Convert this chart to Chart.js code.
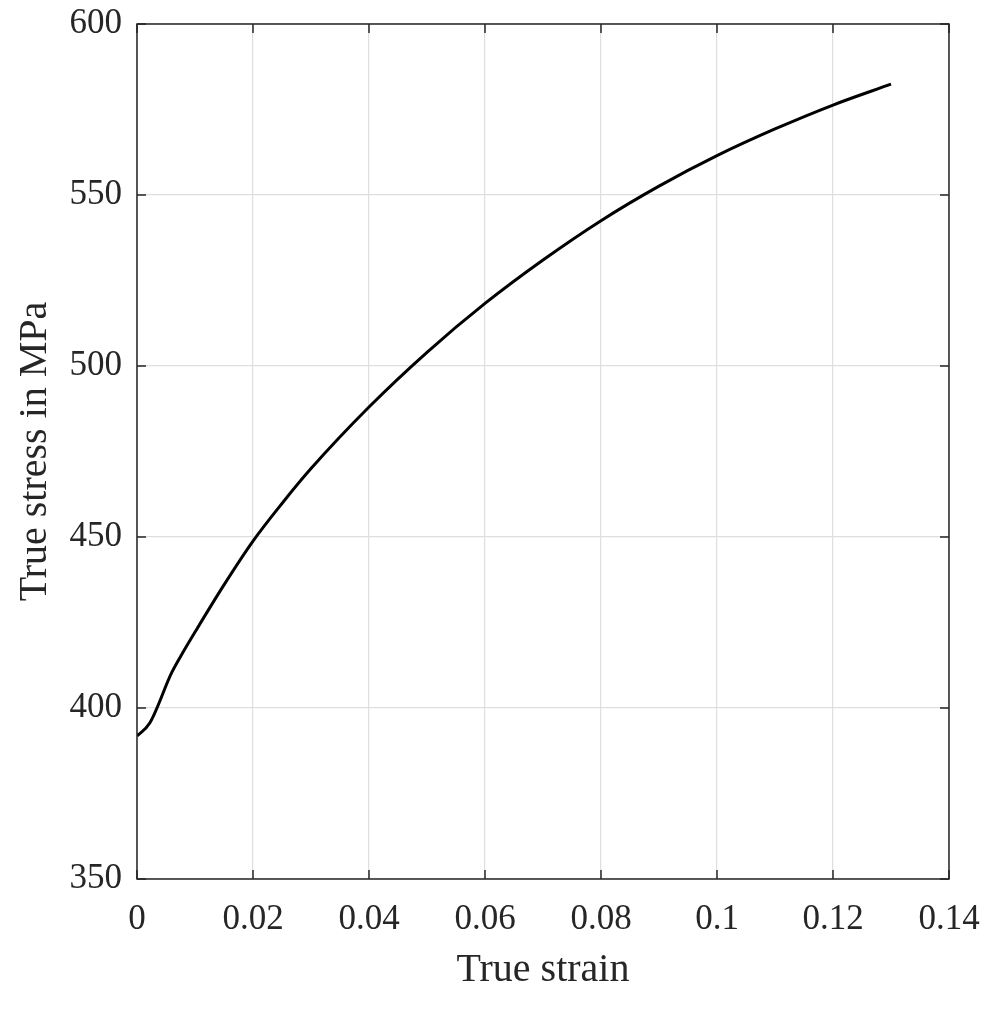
<!DOCTYPE html>
<html>
<head>
<meta charset="utf-8">
<script src="https://cdn.jsdelivr.net/npm/chart.js@4/dist/chart.umd.min.js"></script>
<style>
  html, body { margin: 0; padding: 0; background: #fff; }
  #wrap { width: 992px; height: 1010px; }
</style>
</head>
<body>
<div id="wrap"><canvas id="Chart"></canvas></div>
<script>
/* data */
const strain = [0, 0.0022, 0.006, 0.008, 0.01, 0.015, 0.02, 0.025, 0.03, 0.04, 0.05, 0.06, 0.07, 0.08, 0.09, 0.1, 0.11, 0.12, 0.13];
const stress = [391.8, 395.6, 410.4, 416.5, 422.2, 436.0, 448.8, 459.8, 470, 488, 504, 518.3, 531, 542.5, 552.6, 561.5, 569.3, 576.3, 582.4];
const xTicks = [0, 0.02, 0.04, 0.06, 0.08, 0.1, 0.12, 0.14];
const yTicks = [350, 400, 450, 500, 550, 600];

const fontFam = '"Liberation Serif", "Times New Roman", serif';

/* box and inward ticks like MATLAB */
const boxPlugin = {
    id: 'boxTicks',
    afterDraw(chart) {
        const ctx = chart.ctx;
        const a = chart.chartArea;
        const xs = chart.scales.x, ys = chart.scales.y;
        ctx.save();
        ctx.strokeStyle = '#262626';
        ctx.lineWidth = 1.5;
        ctx.beginPath();
        xTicks.forEach(v => {
            const px = xs.getPixelForValue(v);
            ctx.moveTo(px, a.bottom); ctx.lineTo(px, a.bottom - 9);
            ctx.moveTo(px, a.top); ctx.lineTo(px, a.top + 9);
        });
        yTicks.forEach(v => {
            const py = ys.getPixelForValue(v);
            ctx.moveTo(a.left, py); ctx.lineTo(a.left + 9, py);
            ctx.moveTo(a.right, py); ctx.lineTo(a.right - 9, py);
        });
        ctx.stroke();
        ctx.strokeRect(a.left, a.top, a.right - a.left, a.bottom - a.top);
        ctx.restore();
    }
};

const ctx = document.getElementById('Chart').getContext('2d');
const myChart = new Chart(ctx, {
    type: 'line',
    data: {
        datasets: [{
            data: strain.map((s, i) => ({x: s, y: stress[i]})),
            borderColor: '#000',
            borderWidth: 3,
            pointRadius: 0,
            cubicInterpolationMode: 'monotone',
            fill: false
        }]
    },
    options: {
        responsive: true,
        maintainAspectRatio: false,
        animation: false,
        layout: { padding: { top: 24, right: 43, left: 0, bottom: 0 } },
        plugins: { legend: { display: false }, tooltip: { enabled: false } },
        scales: {
            x: {
                type: 'linear',
                min: 0, max: 0.14,
                afterBuildTicks: s => { s.ticks = xTicks.map(v => ({value: v})); },
                afterFit: s => { s.height = 131; s.paddingLeft = 0; s.paddingRight = 0; },
                grid: { color: '#dedede', lineWidth: 1.2, drawTicks: false },
                border: { display: false },
                ticks: {
                    padding: 20,
                    color: '#262626',
                    font: { family: fontFam, size: 35 },
                    callback: v => String(v)
                },
                title: {
                    display: true,
                    text: 'True strain',
                    color: '#262626',
                    font: { family: fontFam, size: 40 },
                    padding: { top: 0, bottom: 16 }
                }
            },
            y: {
                min: 350, max: 600,
                afterBuildTicks: s => { s.ticks = yTicks.map(v => ({value: v})); },
                afterFit: s => { s.width = 137; s.paddingTop = 0; s.paddingBottom = 0; },
                grid: { color: '#dedede', lineWidth: 1.2, drawTicks: false },
                border: { display: false },
                ticks: {
                    padding: 15,
                    color: '#262626',
                    font: { family: fontFam, size: 35 }
                },
                title: {
                    display: true,
                    text: 'True stress in MPa',
                    color: '#262626',
                    font: { family: fontFam, size: 40 },
                    padding: { top: 11, bottom: 0 }
                }
            }
        }
    },
    plugins: [boxPlugin]
});
</script>
</body>
</html>
